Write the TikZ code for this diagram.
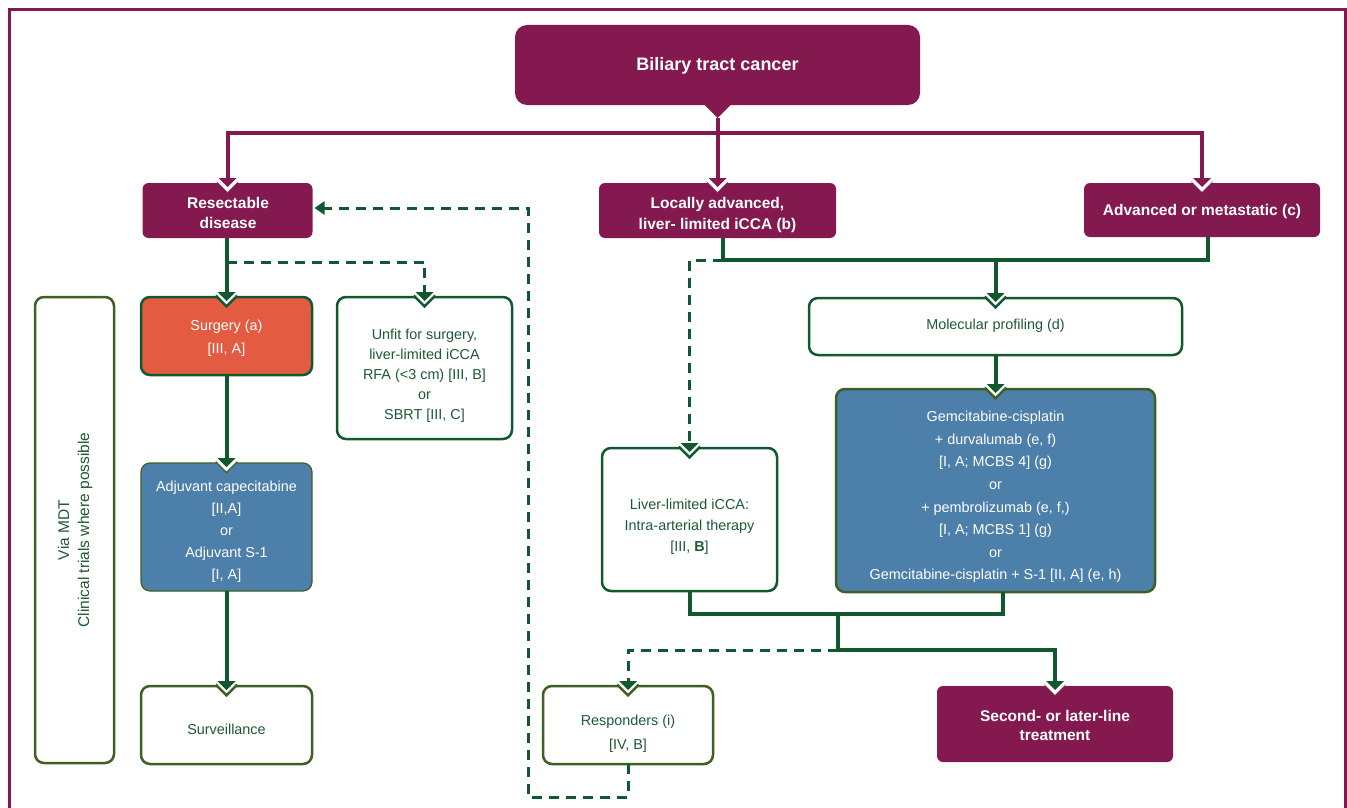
\documentclass[tikz,border=0pt]{standalone}
\usepackage{fontspec}
\setmainfont{Liberation Sans}
\usetikzlibrary{calc,shapes.geometric,arrows.meta}
\definecolor{bpurple}{HTML}{84194F}
\definecolor{bgreen}{HTML}{12582E}
\definecolor{bolive}{HTML}{3F5F24}
\definecolor{borange}{HTML}{E35B40}
\definecolor{bblue}{HTML}{4D7FAB}
\definecolor{tgreen}{HTML}{1E5A34}
% notched arrow head into the top of a box: #1 node, #2 arrow colour, #3 border colour, #4 border width
\newcommand\notcharrow[4]{%
  \begin{scope}[shift={(#1.north)}]
    \fill[white] (-10.8,-1.4) -- (10.8,-1.4) -- (0,9.4) -- cycle;
    \draw[#3, line width=#4, line join=miter] (-10.8,-1.4) -- (0,9.4) -- (10.8,-1.4);
    \fill[#2] (-9,-5) -- (9,-5) -- (0,4) -- cycle;
  \end{scope}}
\begin{document}
\begin{tikzpicture}[x=1pt,y=-1pt,
  box/.style={rectangle, rounded corners=9pt, outer sep=0pt, inner sep=0pt},
  pbox/.style={box, fill=bpurple, rounded corners=6pt},
  gbox/.style={box, fill=white, draw=bgreen, line width=2.5pt},
  obox/.style={box, fill=white, draw=bolive, line width=2.5pt},
  txt/.style={align=center, inner sep=0pt, text=tgreen, font=\fontsize{14.4}{21}\selectfont},
  wtxt/.style={align=center, inner sep=0pt, text=white, font=\fontsize{14.4}{22.6}\selectfont},
  btxt/.style={align=center, inner sep=0pt, text=white, font=\bfseries\fontsize{15.5}{20}\selectfont},
  gline/.style={draw=bgreen, line width=4pt},
  pline/.style={draw=bpurple, line width=4pt},
  dline/.style={draw=bgreen, line width=3pt, dash pattern=on 10pt off 7pt},
]
\useasboundingbox (0,0) rectangle (1347,808);
% outer frame
\draw[bpurple, line width=3pt] (9.5,810) -- (9.5,10) -- (1345.5,10) -- (1345.5,810);

% ---- boxes ----
\node[pbox, rounded corners=12pt, minimum width=405pt, minimum height=80pt] (title) at (717.5,65) {};
\node[btxt, font=\bfseries\fontsize{18}{22}\selectfont] (titleT) at (717.5,66) {Biliary tract cancer};
\node[diamond, fill=bpurple, minimum width=26pt, minimum height=26pt, inner sep=0pt, outer sep=0pt] (dia) at (title.south) {};

\node[pbox, minimum width=170pt, minimum height=55pt] (res) at (227.5,210.5) {};
\node[btxt] (resT) at (228,213) {Resectable\\disease};
\node[pbox, minimum width=237pt, minimum height=55pt] (loc) at (717.5,210.5) {};
\node[btxt, font=\bfseries\fontsize{15.5}{21}\selectfont] (locT) at (717.5,215) {Locally advanced,\\liver- limited iCCA (b)};
\node[pbox, minimum width=236pt, minimum height=54pt] (adv) at (1202,210) {};
\node[btxt] (advT) at (1202,211) {Advanced or metastatic (c)};

\node[obox, minimum width=79pt, minimum height=466pt] (mdt) at (74.5,530) {};
\node[txt, rotate=90, font=\fontsize{15.5}{20}\selectfont] (mdtT) at (75,530) {Via MDT\\Clinical trials where possible};

\node[gbox, fill=borange, minimum width=171pt, minimum height=78pt] (surg) at (226.5,336) {};
\node[wtxt, font=\fontsize{14.4}{23}\selectfont] (surgT) at (226.5,338.5) {Surgery (a)\\{}[III, A]};
\node[gbox, minimum width=175pt, minimum height=142pt] (unfit) at (424.5,368) {};
\node[txt, font=\fontsize{14.4}{20}\selectfont] (unfitT) at (424.5,376) {Unfit for surgery,\\liver-limited iCCA\\RFA (<3 cm) [III, B]\\or\\SBRT [III, C]};
\node[box, fill=bblue, draw=bolive, line width=1.2pt, minimum width=171pt, minimum height=128pt] (adj) at (226.5,527) {};
\node[wtxt, font=\fontsize{14.4}{22}\selectfont] (adjT) at (226.5,532) {Adjuvant capecitabine\\{}[II,A]\\or\\Adjuvant S-1\\{}[I, A]};
\node[obox, minimum width=171pt, minimum height=78pt] (surv) at (226.5,725) {};
\node[txt] (survT) at (226.5,729) {Surveillance};

\node[gbox, minimum width=373pt, minimum height=57pt] (mol) at (995.5,326.5) {};
\node[txt] (molT) at (995.5,326) {Molecular profiling (d)};
\node[box, fill=bblue, draw=bolive, line width=2.5pt, minimum width=319pt, minimum height=203pt] (gem) at (995.5,490.5) {};
\node[wtxt] (gemT) at (995.5,497) {Gemcitabine-cisplatin\\+ durvalumab (e, f)\\{}[I, A; MCBS 4] (g)\\or\\+ pembrolizumab (e, f,)\\{}[I, A; MCBS 1] (g)\\or\\Gemcitabine-cisplatin + S-1 [II, A] (e, h)};
\node[gbox, minimum width=175pt, minimum height=143pt] (liver) at (689.5,519.5) {};
\node[txt] (liverT) at (689.5,527) {Liver-limited iCCA:\\Intra-arterial therapy\\{}[III, \textbf{B}]};
\node[obox, minimum width=170pt, minimum height=78pt] (resp) at (628,725) {};
\node[txt, font=\fontsize{14.4}{24}\selectfont] (respT) at (628,734) {Responders (i)\\{}[IV, B]};
\node[pbox, minimum width=236pt, minimum height=76pt] (second) at (1055,724) {};
\node[btxt, font=\bfseries\fontsize{15.5}{19.5}\selectfont] (secondT) at (1055,725.5) {Second- or later-line\\treatment};

% ---- junction coordinates ----
\coordinate (pbar) at (717.5,133);
\coordinate (rbar) at (226.5,262);
\coordinate (gbar) at (995.5,260);
\coordinate (bbar) at (838,614);
\coordinate (b2) at (838,650);
\coordinate (retc) at (528,797);

% ---- purple connectors ----
\draw[pline] (dia.south) -- ($(loc.north)+(0,-5)$);
\draw[pline] ($(res.north)+(0,-5)$) |- (pbar) -| ($(adv.north)+(0,-5)$);

% ---- green connectors ----
\draw[gline] (surg.north |- res.south) -- ($(surg.north)+(0,-5)$);
\draw[gline] (surg.south) -- ($(adj.north)+(0,-5)$);
\draw[gline] (adj.south) -- ($(surv.north)+(0,-5)$);
\draw[dline] (rbar) -| ($(unfit.north)+(0,-5)$);

\draw[gline] ($(loc.south)+(5.5,0)$) |- (gbar) -| ($(adv.south)+(6,0)$);
\draw[gline] (gbar) -- ($(mol.north)+(0,-5)$);
\draw[dline] ($(loc.south)+(5.5,22.5)$) -| ($(liver.north)+(0,-5)$);
\draw[gline] (mol.south) -- ($(gem.north)+(0,-5)$);

\draw[gline] (liver.south) |- (bbar) -| ($(gem.south)+(7.5,0)$);
\draw[gline] (bbar) -- (b2) -| ($(second.north)+(0,-5)$);
\draw[dline] (b2) -| ($(resp.north)+(0,-5)$);
\draw[dline, -{Triangle[length=10pt,width=13pt]}] (resp.south) |- (retc) |- ($(res.east)+(2,-2.5)$);

% ---- notched arrow heads ----
\notcharrow{loc}{bpurple}{bpurple}{0.4pt}
\notcharrow{res}{bpurple}{bpurple}{0.4pt}
\notcharrow{adv}{bpurple}{bpurple}{0.4pt}
\notcharrow{surg}{bgreen}{bgreen}{2.5pt}
\notcharrow{unfit}{bgreen}{bgreen}{2.5pt}
\notcharrow{adj}{bgreen}{bolive}{1.2pt}
\notcharrow{surv}{bgreen}{bolive}{2.5pt}
\notcharrow{mol}{bgreen}{bgreen}{2.5pt}
\notcharrow{gem}{bgreen}{bolive}{2.5pt}
\notcharrow{liver}{bgreen}{bgreen}{2.5pt}
\notcharrow{resp}{bgreen}{bolive}{2.5pt}
\notcharrow{second}{bgreen}{bpurple}{0.4pt}
\end{tikzpicture}
\end{document}
